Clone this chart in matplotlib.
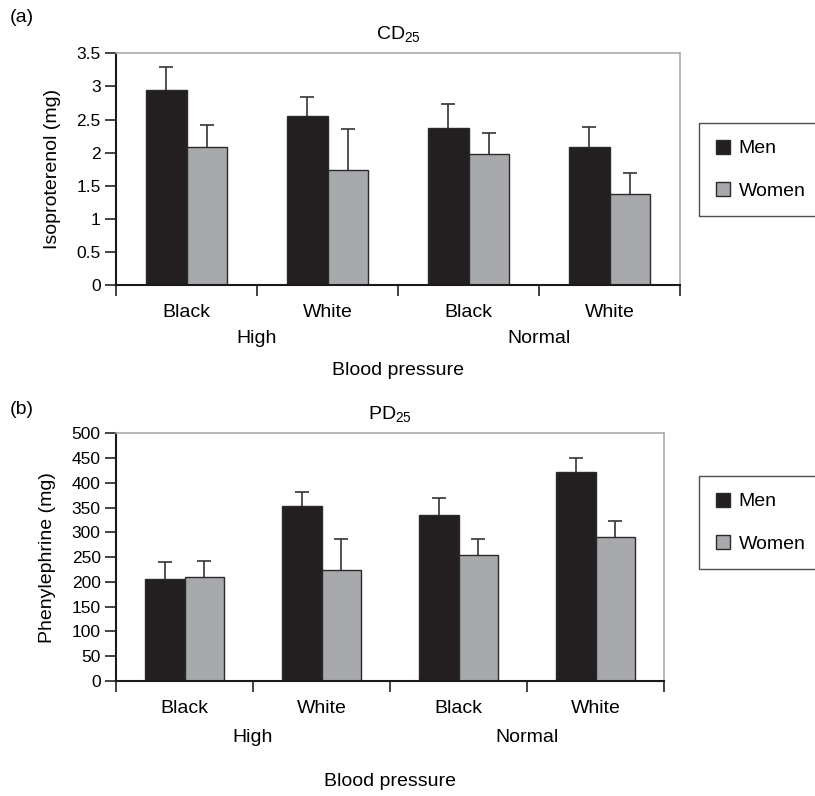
import numpy as np
import matplotlib
matplotlib.use("Agg")
import matplotlib.pyplot as plt

plt.rcParams['font.family'] = ['Liberation Sans', 'DejaVu Sans']

# data
ethnicity = ["Black", "White", "Black", "White"]
bp_groups = ["High", "Normal"]

cd_men = [2.95, 2.55, 2.38, 2.09]
cd_men_err = [0.35, 0.29, 0.35, 0.30]
cd_women = [2.08, 1.74, 1.98, 1.37]
cd_women_err = [0.34, 0.62, 0.32, 0.32]

pd_men = [205, 354, 336, 421]
pd_men_err = [35, 28, 33, 30]
pd_women = [209, 225, 255, 291]
pd_women_err = [34, 61, 32, 32]

men_color = "#231f20"
women_color = "#a7a9ac"
edge = "#2a2a2a"
W, H = 815, 796


def upper_err(ax, xs, vals, errs):
    # only the upper half of the error bar, with a single cap on top
    vals = np.asarray(vals, float)
    tops = vals + np.asarray(errs, float)
    ax.vlines(xs, vals, tops, color="#333333", linewidth=1.2, zorder=1)
    ax.plot(xs, tops, ls="none", marker="_", markersize=10, markeredgewidth=1.2,
            color="#333333", zorder=1)


def draw_panel(ax, men, men_err, women, women_err, ylim, yticks, ylabel, title, letter,
               offsets, legend_top):
    x = np.arange(len(men))
    bw = 0.29
    b1 = ax.bar(x - bw / 2, men, bw, color=men_color, edgecolor=edge, linewidth=1.0,
                label="Men", zorder=2)
    b2 = ax.bar(x + bw / 2, women, bw, color=women_color, edgecolor=edge, linewidth=1.0,
                label="Women", zorder=2)
    upper_err(ax, x - bw / 2, men, men_err)
    upper_err(ax, x + bw / 2, women, women_err)

    ax.set_xlim(-0.5, len(men) - 0.5)
    ax.set_ylim(*ylim)
    ax.set_yticks(yticks)
    ax.set_yticklabels([f"{t:g}" for t in yticks], fontsize=12.5)
    ax.set_xticks(np.arange(-0.5, len(men)))
    ax.set_xticklabels([])
    ax.tick_params(axis="x", direction="out", length=8, width=1.2, color="#222222")
    ax.tick_params(axis="y", direction="out", length=8, width=1.2, color="#222222", pad=3)

    for side in ["top", "right"]:
        ax.spines[side].set_color("#aaaaaa")
        ax.spines[side].set_linewidth(1.2)
    for side in ["left", "bottom"]:
        ax.spines[side].set_color("#1a1a1a")
        ax.spines[side].set_linewidth(1.5)

    ax.set_ylabel(ylabel, fontsize=14, labelpad=11)
    ax.set_title(title, fontsize=14, pad=10)

    # category labels beneath the axis
    for xi, lab in zip(x, ethnicity):
        ax.annotate(lab, (xi, 0), xycoords=("data", "axes fraction"), xytext=(0, -offsets[0]),
                    textcoords="offset points", ha="center", va="center", fontsize=14)
    for gi, lab in enumerate(bp_groups):
        ax.annotate(lab, (2 * gi + 0.5, 0), xycoords=("data", "axes fraction"),
                    xytext=(0, -offsets[1]), textcoords="offset points",
                    ha="center", va="center", fontsize=14)
    ax.annotate("Blood pressure", (0.5, 0), xycoords="axes fraction", xytext=(0, -offsets[2]),
                textcoords="offset points", ha="center", va="center", fontsize=14)

    ax.figure.text(10 / W, 1 - letter / H, "(a)" if "CD" in title else "(b)",
                   fontsize=14, va="center", ha="left")

    leg = ax.legend(handles=[b1, b2], loc="upper left",
                    bbox_to_anchor=(699 / W, 1 - legend_top / H),
                    bbox_transform=ax.figure.transFigure, fontsize=14, frameon=True,
                    fancybox=False, shadow=False, borderaxespad=0, borderpad=0.85,
                    handlelength=0.75, handleheight=0.75, handletextpad=0.45,
                    labelspacing=1.25)
    leg.get_frame().set_edgecolor("#222222")
    leg.get_frame().set_linewidth(1.0)


fig = plt.figure(figsize=(W / 100, H / 100), dpi=100)
ax1 = fig.add_axes([116 / W, 1 - 285.3 / H, (680 - 116) / W, 232 / H])
ax2 = fig.add_axes([116 / W, 1 - 681 / H, (664 - 116) / W, 247.7 / H])

draw_panel(ax1, cd_men, cd_men_err, cd_women, cd_women_err, (0, 3.5),
           np.arange(0, 3.51, 0.5), "Isoproterenol (mg)", r"CD$_{\mathregular{25}}$", 18,
           (19.5, 38, 61), 123)
draw_panel(ax2, pd_men, pd_men_err, pd_women, pd_women_err, (0, 500),
           np.arange(0, 501, 50), "Phenylephrine (mg)", r"PD$_{\mathregular{25}}$", 410,
           (19.5, 41, 72), 476)

fig.savefig("out.png", dpi=100)
